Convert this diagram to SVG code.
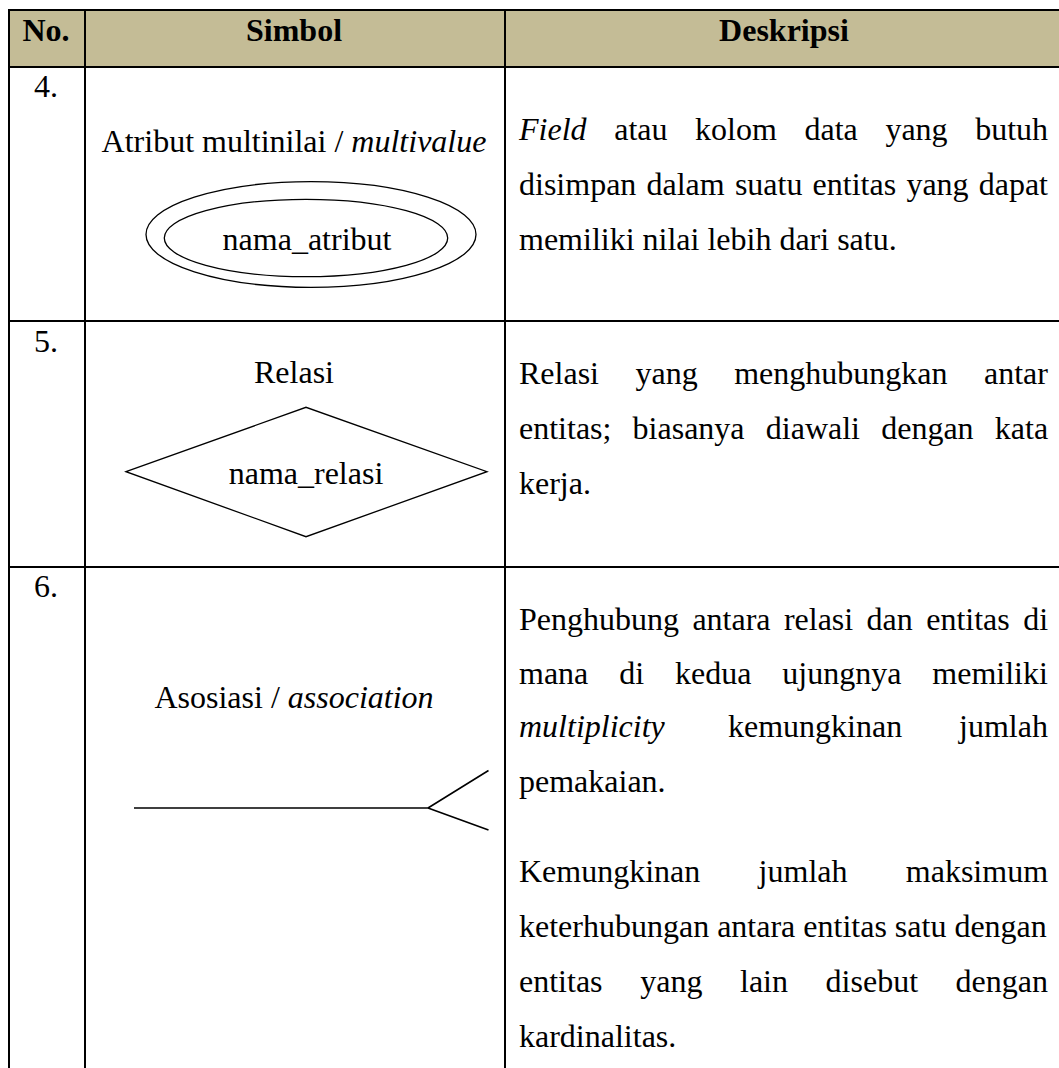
<svg xmlns="http://www.w3.org/2000/svg" width="1059" height="1068" viewBox="0 0 1059 1068">
<style>
text{font-family:"Liberation Serif","Times New Roman",serif;font-size:32px;fill:#000}
.b{font-weight:bold}
.i{font-style:italic}
.m{text-anchor:middle}
.grid{stroke:#000;stroke-width:2;fill:none}
.shape{stroke:#000;stroke-width:1.3;fill:none}
.assoc{stroke:#000;stroke-width:1.6;fill:none}
</style>
<rect width="1059" height="1068" fill="#fff"/>
<g id="table">
<rect x="9" y="10" width="1060" height="57" fill="#C4BC96"/>
<path class="grid" d="M8 10H1059M8 67H1059M9 321H1059M9 567H1059M9 9V1068M85 10V1068M505 10V1068"/>
</g>
<g id="header">
<text class="b m" x="46" y="41">No.</text>
<text class="b m" x="294" y="41">Simbol</text>
<text class="b m" x="784" y="41">Deskripsi</text>
</g>
<g id="row4">
<text x="34" y="97">4.</text>
<text class="m" x="294" y="152">Atribut multinilai / <tspan class="i">multivalue</tspan></text>
<g id="multivalue-attribute">
<ellipse class="shape" cx="311" cy="234.5" rx="165" ry="52.8"/>
<ellipse class="shape" cx="306" cy="238" rx="141.7" ry="38.7"/>
<text class="m" x="307" y="250">nama_atribut</text>
</g>
<text y="140"><tspan class="i" x="519">Field</tspan><tspan x="614.2">atau</tspan><tspan x="695.1">kolom</tspan><tspan x="804.5">data</tspan><tspan x="885.4">yang</tspan><tspan x="975.2">butuh</tspan></text>
<text y="195"><tspan x="519">disimpan</tspan><tspan x="646.5">dalam</tspan><tspan x="734.9">suatu</tspan><tspan x="812.6">entitas</tspan><tspan x="906.4">yang</tspan><tspan x="978.7">dapat</tspan></text>
<text x="519" y="250">memiliki nilai lebih dari satu.</text>
</g>
<g id="row5">
<text x="34" y="352">5.</text>
<text class="m" x="294" y="383">Relasi</text>
<g id="relation">
<polygon class="shape" points="126,471.7 306,407.3 487,471.7 306,536.7"/>
<text class="m" x="306" y="484">nama_relasi</text>
</g>
<text y="383.5"><tspan x="519">Relasi</tspan><tspan x="635.5">yang</tspan><tspan x="734.2">menghubungkan</tspan><tspan x="984">antar</tspan></text>
<text y="438.5"><tspan x="519">entitas;</tspan><tspan x="632.6">biasanya</tspan><tspan x="765.8">diawali</tspan><tspan x="881.2">dengan</tspan><tspan x="994.8">kata</tspan></text>
<text x="519" y="493.5">kerja.</text>
</g>
<g id="row6">
<text x="34" y="597">6.</text>
<text class="m" x="294" y="708">Asosiasi / <tspan class="i">association</tspan></text>
<g id="association">
<path class="assoc" d="M134 808H428M428 808L488.5 770.5M428 808L488.5 830"/>
</g>
<text y="630"><tspan x="519">Penghubung</tspan><tspan x="692.4">antara</tspan><tspan x="783.9">relasi</tspan><tspan x="866.6">dan</tspan><tspan x="926.2">entitas</tspan><tspan x="1023.2">di</tspan></text>
<text y="683.5"><tspan x="519">mana</tspan><tspan x="619.2">di</tspan><tspan x="675">kedua</tspan><tspan x="782.3">ujungnya</tspan><tspan x="932.3">memiliki</tspan></text>
<text y="737"><tspan class="i" x="519">multiplicity</tspan><tspan x="728">kemungkinan</tspan><tspan x="959">jumlah</tspan></text>
<text x="519" y="792">pemakaian.</text>
<text y="882"><tspan x="519">Kemungkinan</tspan><tspan x="758.6">jumlah</tspan><tspan x="905.8">maksimum</tspan></text>
<text x="519" y="937">keterhubungan antara entitas satu dengan</text>
<text y="992"><tspan x="519">entitas</tspan><tspan x="640.2">yang</tspan><tspan x="740">lain</tspan><tspan x="825.6">disebut</tspan><tspan x="955.6">dengan</tspan></text>
<text x="519" y="1047">kardinalitas.</text>
</g>
<g id="connectors"/>
</svg>
